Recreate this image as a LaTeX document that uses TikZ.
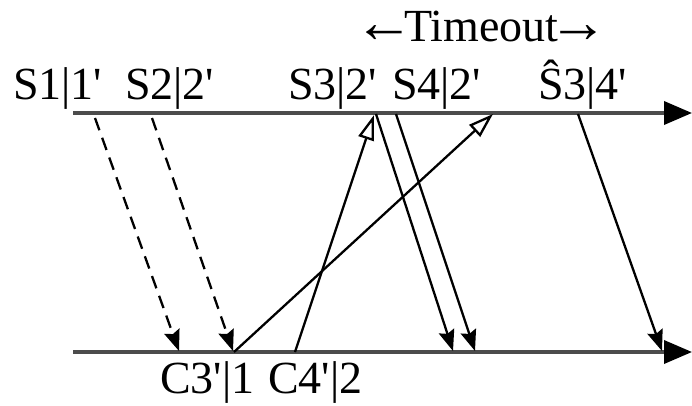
\documentclass[tikz,border=0pt]{standalone}
\usepackage{fontspec}
\newfontfamily\lab{Liberation Serif}
\usetikzlibrary{arrows.meta}
\newcommand\larr{\raisebox{-1pt}{\scalebox{1.3}{←}}}
\newcommand\rarr{\raisebox{-1pt}{\scalebox{1.3}{→}}}
\tikzset{
  lbl/.style={inner sep=0pt, anchor=base west, font=\lab\fontsize{46}{50}\selectfont},
  axis/.style={line width=3.6pt, draw=black!70, -{Triangle[length=28pt,width=23pt,color=black,fill=black]}},
  msg/.style={line width=2.3pt, -{Stealth[length=21pt,width=16pt,inset=3pt]}},
  lost/.style={msg, dash pattern=on 13pt off 8pt},
  ack/.style={line width=2.3pt, -{Triangle[open,length=25pt,width=16pt,line width=2.3pt]}}
}
\begin{document}
\begin{tikzpicture}[x=1pt,y=-1pt]
\useasboundingbox (0,0) rectangle (692,406);
% time axes
\coordinate (ta) at (73,113);
\coordinate (te) at (692,113);
\coordinate (ba) at (73,352);
\coordinate (be) at (692,352);
\draw[axis] (ta) -- (te);
\draw[axis] (ba) -- (be);
% labels above the sender axis
\node[lbl] (s1) at (13,100) {S1|1'};
\node[lbl] (s2) at (125,100) {S2|2'};
\node[lbl] (s3) at (288,100) {S3|2'};
\node[lbl] (s4) at (392,100) {S4|2'};
\node[lbl] (s5) at (538,100) {Ŝ3|4'};
\node[lbl] (to) at (354,42) {\larr\kern-10pt Timeout\kern-10pt\rarr};
% labels below the receiver axis
\node[lbl] (c3) at (160,393) {C3'|1};
\node[lbl] (c4) at (268,393) {C4'|2};
% end points on the axes
\coordinate (t1) at (95,118);
\coordinate (t2) at (152,118);
\coordinate (t3) at (374,115);
\coordinate (t3s) at (376,114);
\coordinate (t4) at (493,114);
\coordinate (t5) at (396,114);
\coordinate (t6) at (578,114);
\coordinate (b1) at (179,351);
\coordinate (b2) at (233,351);
\coordinate (b2s) at (234,352);
\coordinate (b3) at (295,352);
\coordinate (b4) at (453,351);
\coordinate (b5) at (475,351);
\coordinate (b6) at (662,351);
% messages
\draw[lost] (t1) -- (b1);
\draw[lost] (t2) -- (b2);
\draw[ack] (b2s) -- (t4);
\draw[ack] (b3) -- (t3);
\draw[msg] (t3s) -- (b4);
\draw[msg] (t5) -- (b5);
\draw[msg] (t6) -- (b6);
\end{tikzpicture}
\end{document}
